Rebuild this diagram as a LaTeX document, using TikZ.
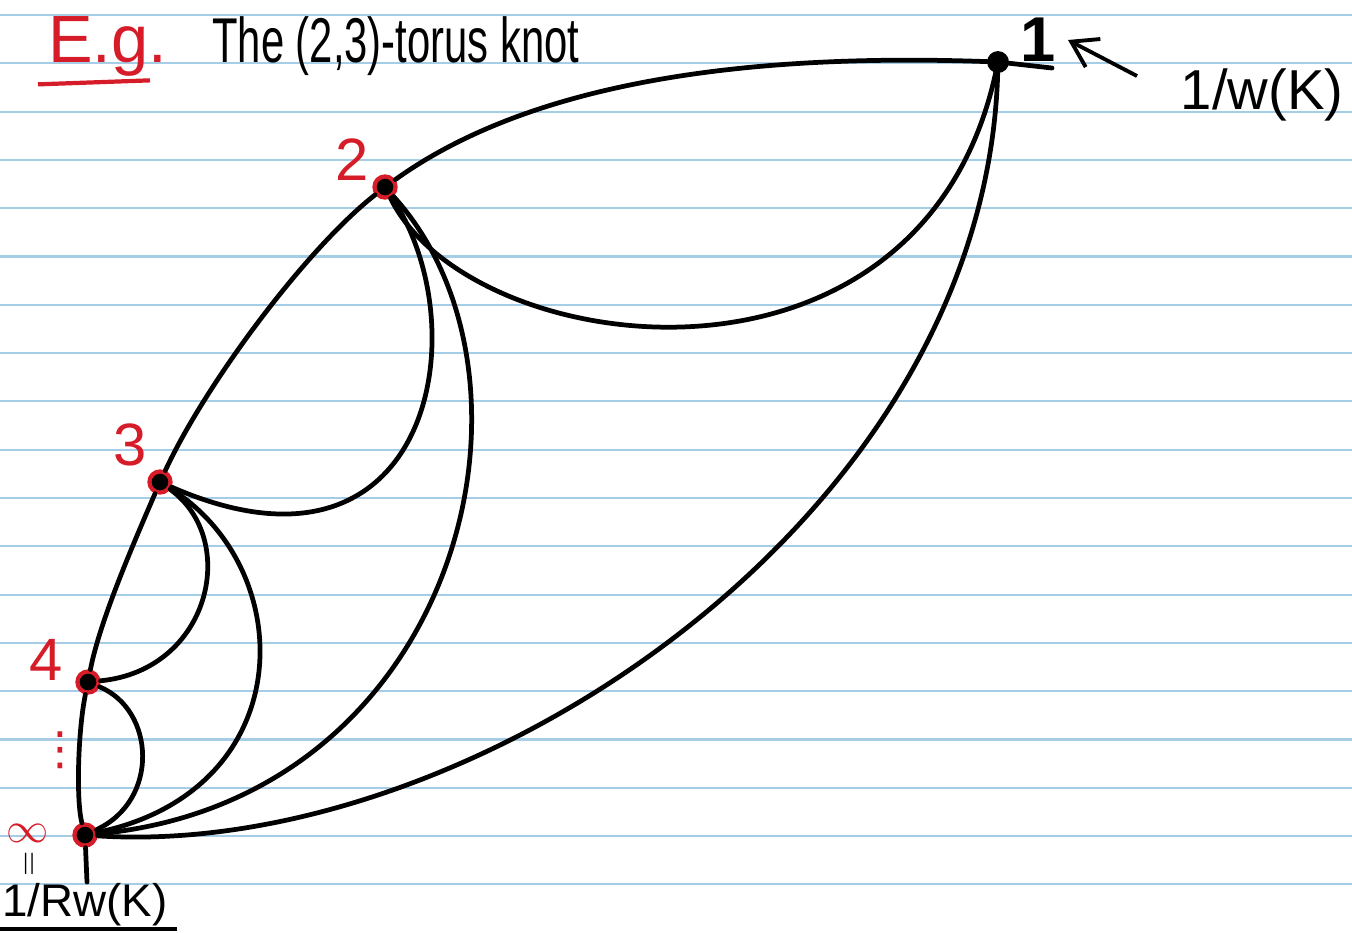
\documentclass[tikz,border=0pt]{standalone}
\usepackage{fontspec}
\setmainfont{Liberation Sans}
\newfontfamily\symfont{DejaVu Sans}
\usepackage{xcolor}
\usepackage{amsmath}
\usetikzlibrary{arrows.meta}

\definecolor{penred}{RGB}{214,28,40}
\definecolor{ruled}{RGB}{165,205,230}

\tikzset{
  paperline/.style={ruled, line width=0.6pt},
  knotarc/.style={line width=1.35pt, line cap=round},
  vtx/.style={circle, fill=black, draw=penred, line width=1.2pt, minimum size=6pt, inner sep=0pt},
  redlbl/.style={text=penred, font=\fontsize{17}{17}\selectfont},
}

\begin{document}
\begin{tikzpicture}[x=0.01cm, y=-0.01cm]
    \useasboundingbox (0,0) rectangle (1352,932);

    % ruled paper
    \foreach \k in {0,...,18} {
        \draw[paperline] (0,{15+48.3*\k}) -- (1352,{15+48.3*\k});
    }

    % Title
    \node[anchor=west, text=penred, font=\fontsize{19}{19}\selectfont] (eg) at (36,46) {E.g.};
    \draw[penred, line width=1.2pt] (eg.south west) ++(2,-4) -- ++(112,-4);
    \node[anchor=west, font=\fontsize{18}{18}\selectfont] (title) at (200,46) {\scalebox{0.66}[1]{The (2,3)-torus knot}};

    % Vertices
    \node[vtx, draw=black, minimum size=5pt] (v1) at (998,62) {};
    \node[vtx] (v2) at (385,187) {};
    \node[vtx] (v3) at (160,482) {};
    \node[vtx] (v4) at (88,682) {};
    \node[vtx] (vinf) at (85,835) {};

    % Labels
    \node[font=\fontsize{18}{18}\selectfont\bfseries] (one) at (1038,40) {1};
    \coordinate (uline) at (1052,68);
    \draw[knotarc] (v1) -- (uline);
    \node[font=\fontsize{16}{16}\selectfont] (wk) at (1262,95) {1/w(K)};
    \coordinate (atail) at (1137,76);
    \draw[line width=1.1pt, -{Straight Barb[length=7pt, width=9pt]}] (atail) -- (one.east);

    \node[redlbl] (l2) at (352,160) {2};
    \node[redlbl] (l3) at (130,445) {3};
    \node[redlbl] (l4) at (46,660) {4};
    \node[text=penred, font=\symfont\fontsize{13}{13}\selectfont] (vd) at (60,750) {⋮};
    \node[text=penred, font=\fontsize{12}{12}\selectfont] (linf) at (28,833) {$\infty$};
    \node[font=\small] (eq) at (31,864) {\rotatebox{90}{$=$}};
    \node[font=\fontsize{13}{13}\selectfont] (rw) at (85,905) {1/Rw(K)};
    \draw[line width=1pt] (0,929) -- (177,929);

    % Arcs
    \draw[knotarc] (v2) .. controls (520,90) and (720,52) .. (v1);
    \draw[knotarc] (v2) .. controls (470,360) and (920,420) .. (v1);
    \draw[knotarc] (v1) .. controls (985,520) and (470,860) .. (vinf);
    \draw[knotarc] (v2) .. controls (305,250) and (205,385) .. (v3);
    \draw[knotarc] (v2) .. controls (480,330) and (430,600) .. (v3);
    \draw[knotarc] (v2) .. controls (560,380) and (460,800) .. (vinf);
    \draw[knotarc] (v3) .. controls (135,540) and (100,620) .. (v4);
    \draw[knotarc] (v3) .. controls (240,540) and (210,670) .. (v4);
    \draw[knotarc] (v3) .. controls (300,570) and (300,790) .. (vinf);
    \draw[knotarc] (v4) .. controls (78,730) and (76,800) .. (vinf);
    \draw[knotarc] (v4) .. controls (155,710) and (160,800) .. (vinf);
    \coordinate (tail) at (87,882);
    \draw[knotarc] (vinf) -- (tail);
\end{tikzpicture}
\end{document}
